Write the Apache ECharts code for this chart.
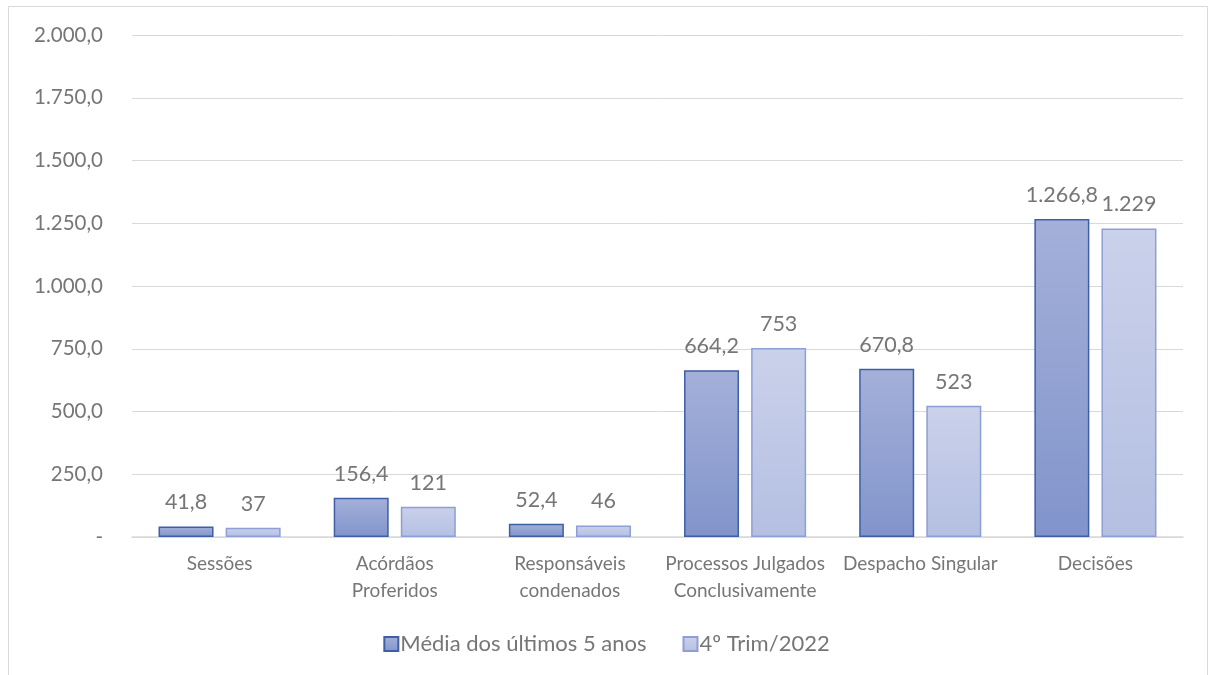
<!DOCTYPE html>
<html>
<head>
<meta charset="utf-8">
<script src="https://cdn.jsdelivr.net/npm/echarts@6/dist/echarts.min.js"></script>
<style>
  html, body { margin: 0; padding: 0; background: #fff; }
  #chart { width: 1213px; height: 675px; }
</style>
</head>
<body>
<div id="chart"></div>
<script>
// categories and values
const categorias = ['Sessões', 'Acórdãos\nProferidos', 'Responsáveis\ncondenados',
  'Processos Julgados\nConclusivamente', 'Despacho Singular', 'Decisões']
const mediaCincoAnos = [41.8, 156.4, 52.4, 664.2, 670.8, 1266.8]
const quartoTrim2022 = [37, 121, 46, 753, 523, 1229]
const nomesSeries = ['Média dos últimos 5 anos', '4º Trim/2022']

const fonte = 'Lato, "Noto Sans", sans-serif'
const cinza = '#767676'

// 1234.5 -> 1.234,5 (digits = casas decimais)
function formatBR (v, digits) {
  if (v === 0) return '-'
  let s = v.toFixed(digits)
  let parts = s.split('.')
  parts[0] = parts[0].replace(/\B(?=(\d{3})+(?!\d))/g, '.')
  return parts.join(',')
}

let chart = echarts.init(document.getElementById('chart'))
let option = {
  backgroundColor: '#fff',
  animation: false,
  textStyle: { fontFamily: fonte },
  graphic: [{
    type: 'rect',
    shape: { x: 8.5, y: 6.5, width: 1199, height: 680 },
    style: { fill: 'none', stroke: '#d9d9d9', lineWidth: 1 },
    silent: true
  }],
  grid: { left: 132, right: 30, top: 35, bottom: 138, containLabel: false },
  legend: {
    bottom: 15,
    left: 'center',
    itemWidth: 14,
    itemHeight: 14,
    itemGap: 36,
    icon: 'rect',
    textStyle: { color: cinza, fontSize: 22, fontFamily: fonte, padding: [0, 0, 0, -3] },
    data: nomesSeries
  },
  xAxis: {
    type: 'category',
    data: categorias,
    axisTick: { show: false },
    axisLine: { lineStyle: { color: '#d9d9d9', width: 1.5 } },
    axisLabel: { color: cinza, fontSize: 19, margin: 13, lineHeight: 27, interval: 0 }
  },
  yAxis: {
    type: 'value',
    min: 0,
    max: 2000,
    interval: 250,
    axisLine: { show: false },
    axisTick: { show: false },
    splitLine: { lineStyle: { color: '#d9d9d9' } },
    axisLabel: {
      color: cinza,
      fontSize: 20.5,
      margin: 29,
      formatter: function (v) { return formatBR(v, 1) }
    }
  },
  series: [
    {
      name: nomesSeries[0],
      type: 'bar',
      data: mediaCincoAnos,
      barWidth: 55,
      barGap: '22%',
      itemStyle: {
        color: new echarts.graphic.LinearGradient(0, 0, 0, 1, [
          { offset: 0, color: '#a4b0d9' },
          { offset: 1, color: '#8194cb' }
        ]),
        borderColor: '#3e5ea6',
        borderWidth: 1.5
      },
      label: {
        show: true,
        position: 'top',
        distance: 13,
        color: cinza,
        fontSize: 21.5,
        formatter: function (p) { return formatBR(p.value, 1) }
      }
    },
    {
      name: nomesSeries[1],
      type: 'bar',
      data: quartoTrim2022,
      barWidth: 55,
      itemStyle: {
        color: new echarts.graphic.LinearGradient(0, 0, 0, 1, [
          { offset: 0, color: '#cad1ea' },
          { offset: 1, color: '#b4bfe2' }
        ]),
        borderColor: '#8d9fd5',
        borderWidth: 1.5
      },
      label: {
        show: true,
        position: 'top',
        distance: 13,
        color: cinza,
        fontSize: 21.5,
        formatter: function (p) { return formatBR(p.value, 0) }
      }
    }
  ]
}
chart.setOption(option)
</script>
</body>
</html>
